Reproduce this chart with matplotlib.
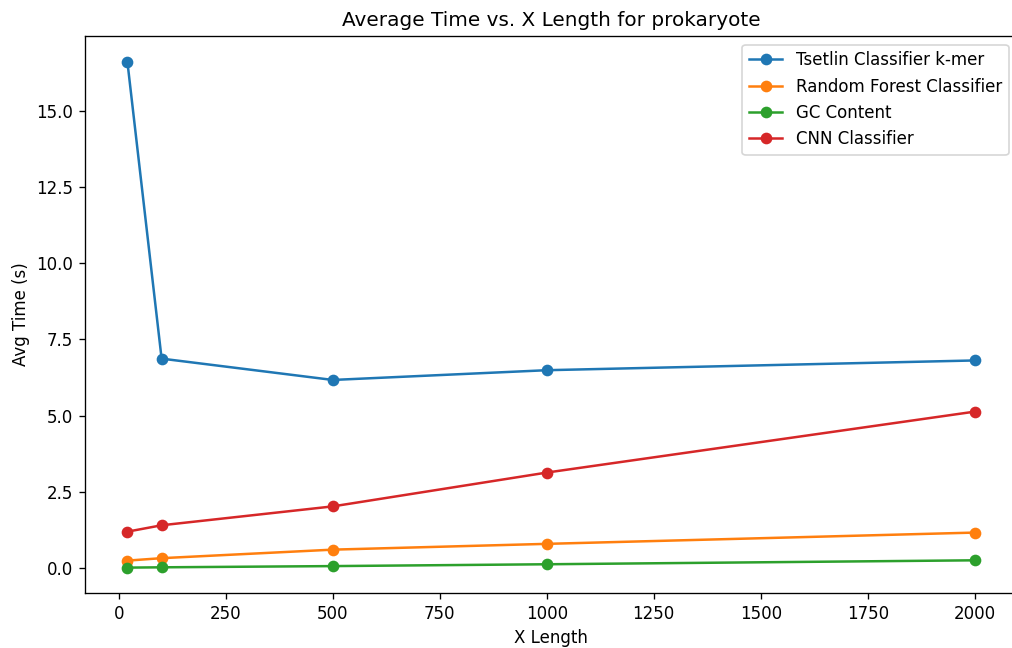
import matplotlib
matplotlib.use("Agg")
import matplotlib.pyplot as plt

# sequence lengths and average runtimes per method
x_lengths = [20, 100, 500, 1000, 2000]
tsetlin_kmer = [16.62, 6.87, 6.17, 6.49, 6.81]
random_forest = [0.24, 0.32, 0.60, 0.79, 1.16]
gc_content = [0.01, 0.02, 0.06, 0.12, 0.25]
cnn = [1.19, 1.40, 2.02, 3.13, 5.13]

fig = plt.figure(figsize=(1012 / 120, 648 / 120), dpi=120)
ax = fig.add_axes([0.084, 0.085, 0.921, 0.859])

ax.plot(x_lengths, tsetlin_kmer, marker="o", label="Tsetlin Classifier k-mer")
ax.plot(x_lengths, random_forest, marker="o", label="Random Forest Classifier")
ax.plot(x_lengths, gc_content, marker="o", label="GC Content")
ax.plot(x_lengths, cnn, marker="o", label="CNN Classifier")

ax.set_title("Average Time vs. X Length for prokaryote")
ax.set_xlabel("X Length")
ax.set_ylabel("Avg Time (s)")
ax.legend(loc="upper right")

fig.savefig("out.png", dpi=120)
